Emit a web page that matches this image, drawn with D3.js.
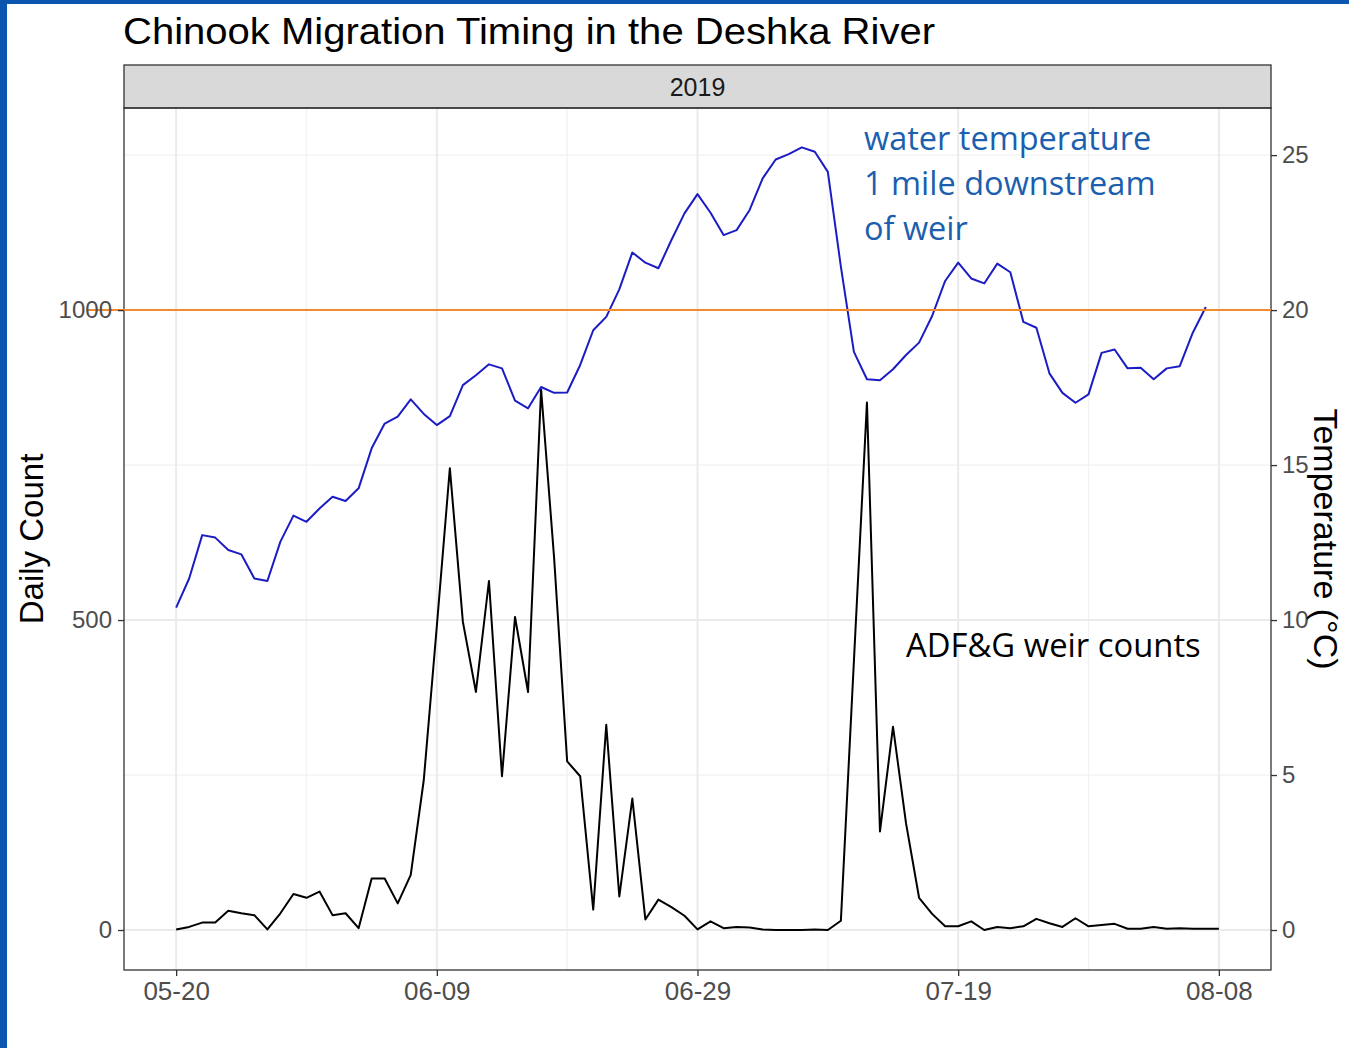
<!DOCTYPE html>
<html>
<head>
<meta charset="utf-8">
<title>Chinook Migration Timing in the Deshka River</title>
<script src="https://cdn.jsdelivr.net/npm/d3@7"></script>
<style>
	body { margin: 0; background: #fff; }
	svg { display: block; }
	text { font-family: "Liberation Sans", Arial, sans-serif; }
	.note { font-family: "Open Sans", "Noto Sans", sans-serif; }
</style>
</head>
<body>
<svg id="chart" width="1349" height="1048"></svg>
<script>

/* data (one value per day from 05-20) */
var firstDay = "2019-05-20";

var dailyCount = [1, 5, 12, 12, 31, 27, 24, 1, 27, 58,
	52, 62, 24, 27, 3, 83, 83, 43, 89, 242,
	490, 745, 497, 384, 563, 248, 505, 384, 872, 600,
	272, 248, 33, 331, 54, 212, 17, 49, 37, 23,
	1, 14, 3, 5, 4, 1, 0, 0, 0, 1,
	0, 15, 434, 851, 159, 328, 172, 52, 26, 6,
	6, 14, 0, 5, 3, 6, 18, 11, 5, 19,
	6, 8, 10, 2, 2, 5, 2, 3, 2, 2,
	2];

var waterTemp = [10.4, 11.34, 12.74, 12.66, 12.26, 12.12, 11.34, 11.26, 12.53, 13.37,
	13.17, 13.6, 13.98, 13.84, 14.25, 15.54, 16.34, 16.56, 17.12, 16.65,
	16.29, 16.58, 17.58, 17.9, 18.25, 18.12, 17.08, 16.83, 17.52, 17.33,
	17.34, 18.23, 19.35, 19.78, 20.67, 21.86, 21.53, 21.35, 22.26, 23.12,
	23.74, 23.14, 22.42, 22.58, 23.23, 24.25, 24.86, 25.03, 25.25, 25.11,
	24.46, 21.4, 18.65, 17.77, 17.74, 18.09, 18.55, 18.95, 19.81, 20.94,
	21.53, 21.02, 20.86, 21.5, 21.22, 19.62, 19.43, 17.96, 17.33, 17.01,
	17.28, 18.62, 18.73, 18.12, 18.14, 17.77, 18.12, 18.19, 19.27, 20.1];

var dateTicks = ["2019-05-20", "2019-06-09", "2019-06-29", "2019-07-19", "2019-08-08"];
var dateMinor = ["2019-05-30", "2019-06-19", "2019-07-09", "2019-07-29"];
var countTicks = [0, 500, 1000];
var countMinor = [250, 750, 1250];
var tempTicks = [0, 5, 10, 15, 20, 25];
var tempThreshold = 20;
var countPerDegree = 50; // secondary axis: 1 degree = 50 fish

var parseDay = d3.utcParse("%Y-%m-%d");
var day0 = parseDay(firstDay);

/* layout */
var svg = d3.select("#chart");
var panel = { left: 124, right: 1271, top: 108, bottom: 970 },
	stripTop = 65;

svg.append("rect").attr("width", 1349).attr("height", 1048).attr("fill", "#fff");
// blue frame of the slide
svg.append("rect").attr("x", 0).attr("y", 0).attr("width", 7).attr("height", 1048).attr("fill", "#0b57b0");
svg.append("rect").attr("x", 0).attr("y", 0).attr("width", 1349).attr("height", 4).attr("fill", "#0b57b0");

/* scales */
var x = d3.scaleUtc()
	.domain([d3.utcDay.offset(day0, -4), d3.utcDay.offset(day0, 84)])
	.range([panel.left, panel.right]);

var y = d3.scaleLinear()
	.domain([-64.5, 1326])
	.range([panel.bottom, panel.top]);

var yTemp = d3.scaleLinear()
	.domain(y.domain().map(function(v) { return v / countPerDegree; }))
	.range(y.range());

function dayOf(i) { return d3.utcDay.offset(day0, i); }

/* grid */
var grid = svg.append("g").attr("class", "grid");

grid.selectAll(".hminor").data(countMinor).enter().append("line")
	.attr("x1", panel.left).attr("x2", panel.right)
	.attr("y1", function(d) { return y(d); }).attr("y2", function(d) { return y(d); })
	.attr("stroke", "#f2f2f2").attr("stroke-width", 1.3);

grid.selectAll(".vminor").data(dateMinor).enter().append("line")
	.attr("y1", panel.top).attr("y2", panel.bottom)
	.attr("x1", function(d) { return x(parseDay(d)); }).attr("x2", function(d) { return x(parseDay(d)); })
	.attr("stroke", "#f2f2f2").attr("stroke-width", 1.3);

grid.selectAll(".hmajor").data(countTicks).enter().append("line")
	.attr("x1", panel.left).attr("x2", panel.right)
	.attr("y1", function(d) { return y(d); }).attr("y2", function(d) { return y(d); })
	.attr("stroke", "#ebebeb").attr("stroke-width", 2);

grid.selectAll(".vmajor").data(dateTicks).enter().append("line")
	.attr("y1", panel.top).attr("y2", panel.bottom)
	.attr("x1", function(d) { return x(parseDay(d)); }).attr("x2", function(d) { return x(parseDay(d)); })
	.attr("stroke", "#ebebeb").attr("stroke-width", 2);

/* lines */
var countLine = d3.line()
	.x(function(d, i) { return x(dayOf(i)); })
	.y(function(d) { return y(d); });

var tempLine = d3.line()
	.x(function(d, i) { return x(dayOf(i)); })
	.y(function(d) { return yTemp(d); });

svg.append("path")
	.datum(dailyCount)
	.attr("d", countLine)
	.attr("fill", "none")
	.attr("stroke", "#000")
	.attr("stroke-width", 2)
	.attr("stroke-linejoin", "round");

svg.append("path")
	.datum(waterTemp)
	.attr("d", tempLine)
	.attr("fill", "none")
	.attr("stroke", "#1c1cc4")
	.attr("stroke-width", 2)
	.attr("stroke-linejoin", "round");

/* strip */
svg.append("rect")
	.attr("x", panel.left).attr("y", stripTop)
	.attr("width", panel.right - panel.left).attr("height", panel.top - stripTop)
	.attr("fill", "#d9d9d9").attr("stroke", "#333").attr("stroke-width", 1.3);

svg.append("text")
	.attr("x", (panel.left + panel.right) / 2).attr("y", 96)
	.attr("text-anchor", "middle")
	.attr("font-size", 25).attr("fill", "#1a1a1a")
	.text("2019");

/* panel border */
svg.append("rect")
	.attr("x", panel.left).attr("y", panel.top)
	.attr("width", panel.right - panel.left).attr("height", panel.bottom - panel.top)
	.attr("fill", "none").attr("stroke", "#333").attr("stroke-width", 1.3);

/* threshold line, 20 degrees */
svg.append("line")
	.attr("x1", 87).attr("x2", panel.right)
	.attr("y1", yTemp(tempThreshold)).attr("y2", yTemp(tempThreshold))
	.attr("stroke", "#f28a30").attr("stroke-width", 2);

/* axes */
function styleAxis(size) {
	return function(g) {
		g.select(".domain").remove();
		g.selectAll(".tick line").attr("stroke", "#333").attr("stroke-width", 1.3);
		g.selectAll(".tick text").attr("fill", "#4d4d4d").attr("font-size", size)
			.attr("font-family", "Liberation Sans, Arial, sans-serif");
	};
}

svg.append("g")
	.attr("transform", "translate(0," + panel.bottom + ")")
	.call(d3.axisBottom(x)
		.tickValues(dateTicks.map(parseDay))
		.tickFormat(d3.utcFormat("%m-%d"))
		.tickSize(6).tickPadding(6))
	.call(styleAxis(26));

svg.append("g")
	.attr("transform", "translate(" + panel.left + ",0)")
	.call(d3.axisLeft(y).tickValues(countTicks).tickFormat(d3.format("d")).tickSize(6).tickPadding(6))
	.call(styleAxis(24));

svg.append("g")
	.attr("transform", "translate(" + panel.right + ",0)")
	.call(d3.axisRight(yTemp).tickValues(tempTicks).tickSize(6).tickPadding(5))
	.call(styleAxis(24));

/* titles */
svg.append("text")
	.attr("x", 123).attr("y", 44)
	.attr("font-size", 37).attr("fill", "#000")
	.attr("textLength", 812).attr("lengthAdjust", "spacingAndGlyphs")
	.text("Chinook Migration Timing in the Deshka River");

svg.append("text")
	.attr("transform", "translate(43,539) rotate(-90)")
	.attr("text-anchor", "middle")
	.attr("font-size", 33).attr("fill", "#000")
	.text("Daily Count");

svg.append("text")
	.attr("transform", "translate(1314,539) rotate(90)")
	.attr("text-anchor", "middle")
	.attr("font-size", 34).attr("fill", "#000")
	.text("Temperature (\u00b0C)");

/* annotations */
var tempNote = ["water temperature", "1 mile downstream", "of weir"];
svg.selectAll(".tempnote").data(tempNote).enter().append("text")
	.attr("class", "note")
	.attr("x", 864)
	.attr("y", function(d, i) { return 150 + i * 45; })
	.attr("font-size", 32.5).attr("fill", "#1b5fae")
	.text(function(d) { return d; });

svg.append("text")
	.attr("class", "note")
	.attr("x", 906).attr("y", 657)
	.attr("font-size", 32.8).attr("fill", "#000")
	.text("ADF&G weir counts");

</script>
</body>
</html>
